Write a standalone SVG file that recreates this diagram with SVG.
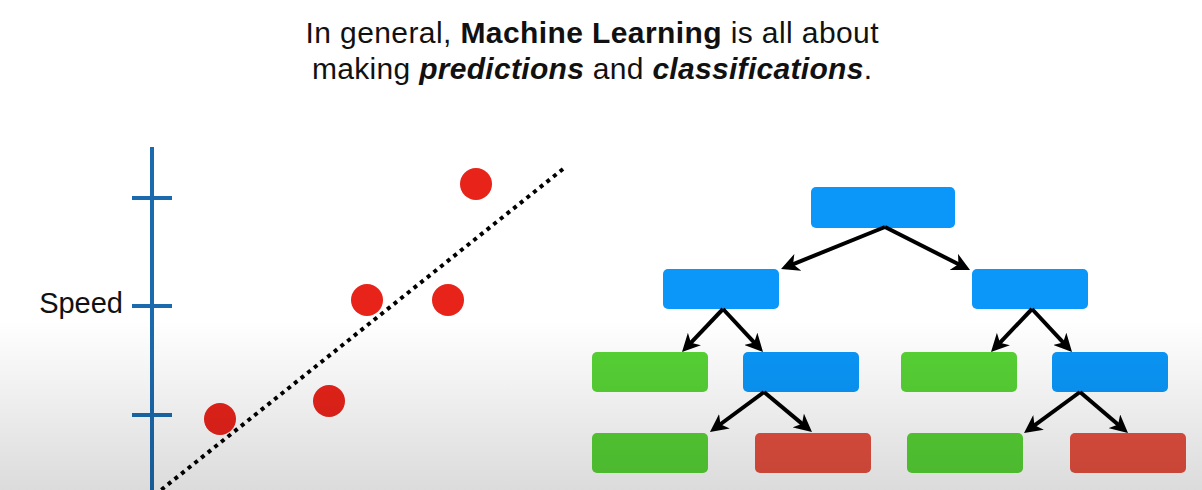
<svg xmlns="http://www.w3.org/2000/svg" width="1202" height="490" viewBox="0 0 1202 490">
<style>
text{font-family:"Liberation Sans",Arial,Helvetica,sans-serif;fill:#111}
.b{font-weight:bold}
.bi{font-weight:bold;font-style:italic}
.blue{fill:#0a97f9}
.green{fill:#57d335}
.red{fill:#e5503f}
.axis{stroke:#1b6aae;stroke-width:4;fill:none}
.conn{stroke:#000;stroke-width:4;fill:none}
.dot{fill:#e8231a}
</style>
<defs>
<marker id="ah" viewBox="0 0 18 18" refX="8" refY="9" markerWidth="18" markerHeight="18" markerUnits="userSpaceOnUse" orient="auto">
<path d="M0,0 L18,9 L0,18 L5,9 z" fill="#000"/>
</marker>
<linearGradient id="shade" x1="0" y1="0" x2="0" y2="1">
<stop offset="0" stop-color="#000" stop-opacity="0"/>
<stop offset="1" stop-color="#000" stop-opacity="0.14"/>
</linearGradient>
</defs>
<rect x="0" y="0" width="1202" height="490" fill="#fff"/>

<g id="title">
<text x="592" y="43" font-size="30" text-anchor="middle" textLength="573" lengthAdjust="spacing">In general, <tspan class="b">Machine Learning</tspan> is all about</text>
<text x="592" y="79" font-size="30" text-anchor="middle" textLength="560" lengthAdjust="spacing">making <tspan class="bi">predictions</tspan> and <tspan class="bi">classifications</tspan>.</text>
</g>

<g id="chart">
<line class="axis" x1="152" y1="147" x2="152" y2="490"/>
<line class="axis" x1="132" y1="198" x2="172" y2="198"/>
<line class="axis" x1="132" y1="306" x2="172" y2="306"/>
<line class="axis" x1="132" y1="415" x2="172" y2="415"/>
<text x="123" y="313" font-size="29" text-anchor="end">Speed</text>
<line x1="563" y1="169" x2="161" y2="490" stroke="#000" stroke-width="4" stroke-dasharray="4 4.5"/>
<circle class="dot" cx="476" cy="184" r="16"/>
<circle class="dot" cx="367" cy="300" r="16"/>
<circle class="dot" cx="448" cy="300" r="16"/>
<circle class="dot" cx="329" cy="401" r="16"/>
<circle class="dot" cx="220" cy="419" r="16"/>
</g>

<g id="root"><rect class="blue" x="811" y="187" width="144" height="41" rx="5"/></g>
<g id="n-l"><rect class="blue" x="663" y="269" width="116" height="40" rx="5"/></g>
<g id="n-r"><rect class="blue" x="972" y="269" width="116" height="40" rx="5"/></g>
<g id="n-ll"><rect class="green" x="592" y="352" width="116" height="40" rx="5"/></g>
<g id="n-lr"><rect class="blue" x="743" y="352" width="116" height="40" rx="5"/></g>
<g id="n-rl"><rect class="green" x="901" y="352" width="116" height="40" rx="5"/></g>
<g id="n-rr"><rect class="blue" x="1052" y="352" width="116" height="40" rx="5"/></g>
<g id="n-lrl"><rect class="green" x="592" y="433" width="116" height="40" rx="5"/></g>
<g id="n-lrr"><rect class="red" x="755" y="433" width="116" height="40" rx="5"/></g>
<g id="n-rrl"><rect class="green" x="907" y="433" width="116" height="40" rx="5"/></g>
<g id="n-rrr"><rect class="red" x="1070" y="433" width="116" height="40" rx="5"/></g>

<g id="connectors" marker-end="url(#ah)">
<path class="conn" d="M885,227 L790.3,265.3"/>
<path class="conn" d="M885,227 L961.1,265.5"/>
<path class="conn" d="M723,309 L688.9,344.8"/>
<path class="conn" d="M723,309 L756.2,344.7"/>
<path class="conn" d="M1032,309 L997.9,344.8"/>
<path class="conn" d="M1032,309 L1065.2,344.7"/>
<path class="conn" d="M764,392 L718,426"/>
<path class="conn" d="M764,392 L804.3,425.6"/>
<path class="conn" d="M1080,392 L1032.1,427.1"/>
<path class="conn" d="M1080,392 L1120.4,426.5"/>
</g>

<rect x="0" y="320" width="1202" height="170" fill="url(#shade)" pointer-events="none"/>
</svg>
